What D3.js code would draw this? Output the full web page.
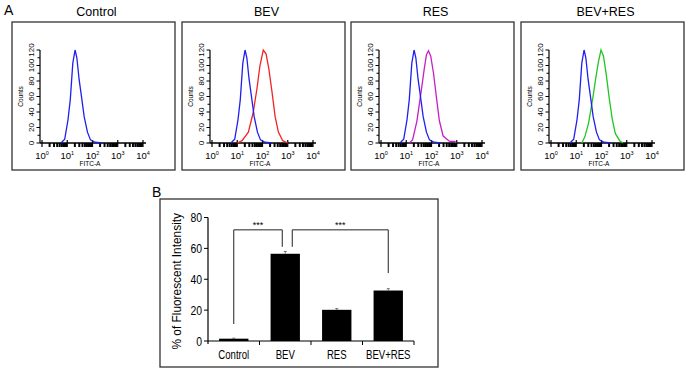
<!DOCTYPE html>
<html>
<head>
<meta charset="utf-8">
<script src="https://cdn.jsdelivr.net/npm/d3@7"></script>
<style>
  body { margin: 0; background: #fff; }
  svg { display: block; font-family: "Liberation Sans", Arial, sans-serif; }
</style>
</head>
<body>
<svg id="chart" width="685" height="370"></svg>
<script>
// ---- data ----
// histograms: [log10 FITC-A, counts]
const controlHist = [[0.75,0],[0.9,5],[1.03,30],[1.12,56],[1.22,103],[1.31,120],[1.38,110],[1.47,82],[1.58,56],[1.67,34],[1.8,14],[1.92,4],[2.1,1],[2.37,0]];
const bevHist = [[1.0,0],[1.19,3],[1.44,14],[1.63,39],[1.78,70],[1.9,100],[2.03,120],[2.14,115],[2.25,96],[2.38,65],[2.5,34],[2.63,14],[2.8,3],[3.0,0]];
const resHist = [[1.12,0],[1.25,4],[1.42,28],[1.58,64],[1.71,95],[1.8,114],[1.88,119],[1.97,112],[2.08,90],[2.21,55],[2.31,29],[2.46,9],[2.72,2],[2.92,2],[2.98,0]];
const bevResHist = [[1.22,0],[1.34,8],[1.49,26],[1.65,57],[1.77,83],[1.88,105],[1.98,120],[2.08,112],[2.19,88],[2.31,57],[2.43,30],[2.55,12],[2.72,3],[2.85,0]];

const panelNames = ["Control", "BEV", "RES", "BEV+RES"];
const panelHists = [null, bevHist, resHist, bevResHist];
const panelColors = ["#1f1fef", "#f02424", "#c81ec8", "#22c522"];
const countTicks = [0, 20, 40, 60, 80, 100, 120];
const decadeTicks = [1, 10, 100, 1000, 10000];
const decadeExp = ["0", "1", "2", "3", "4"];

// bar chart
const categories = ["Control", "BEV", "RES", "BEV+RES"];
const intensity = [1.5, 56.5, 20.2, 32.7];
const intensityErr = [0.3, 1.5, 0.8, 1.2];
const yTicks = [0, 20, 40, 60, 80];
const brackets = [
  { from: "Control", to: "BEV", leftEnd: 11, top: 72, rightEnd: 61, dxL: 0, dxR: -3 },
  { from: "BEV", to: "BEV+RES", leftEnd: 61, top: 72, rightEnd: 44, dxL: 7, dxR: 0 }
];

const svg = d3.select("#chart");
svg.append("rect").attr("width", 685).attr("height", 370).attr("fill", "#fff");

svg.append("text").attr("x", 4).attr("y", 15).style("font-size", "14px").text("A");

// ---- panel A ----
const panelX = [12, 182, 351, 521];
const panelW = 163, panelTop = 22, panelH = 148;

panelX.forEach((px, i) => {
  const g = svg.append("g").attr("transform", `translate(${px},${panelTop})`);
  g.append("rect").attr("width", panelW).attr("height", panelH)
    .attr("fill", "none").attr("stroke", "#333").attr("stroke-width", 1.3);

  svg.append("text").attr("x", px + panelW / 2 + 3).attr("y", 16)
    .attr("text-anchor", "middle").style("font-size", "12.5px").text(panelNames[i]);

  const ax = 28;
  const x = d3.scaleLog().domain([1, 10000]).range([ax + 2, ax + 103]);
  const y = d3.scaleLinear().domain([0, 120]).range([121, 28]);

  // y axis
  g.append("line").attr("x1", ax).attr("x2", ax).attr("y1", y(0)).attr("y2", y(120))
    .attr("stroke", "#000").attr("stroke-width", 1.2);
  d3.range(0, 121, 10).forEach(v => {
    g.append("line").attr("x1", ax).attr("x2", ax - (v % 20 === 0 ? 3.5 : 2.5))
      .attr("y1", y(v)).attr("y2", y(v)).attr("stroke", "#000").attr("stroke-width", 1);
  });
  countTicks.forEach(v => {
    g.append("text").attr("transform", `translate(${ax - 6},${y(v)}) rotate(-90)`)
      .attr("text-anchor", "middle").style("font-size", "8px").text(v);
  });
  g.append("text").attr("transform", `translate(${ax - 17},${(y(0) + y(120)) / 2}) rotate(-90)`)
    .attr("text-anchor", "middle").style("font-size", "6.5px").text("Counts");

  // x axis
  g.append("line").attr("x1", ax).attr("x2", ax + 106).attr("y1", y(0)).attr("y2", y(0))
    .attr("stroke", "#000").attr("stroke-width", 1.3);
  decadeTicks.slice(0, 4).forEach(d => {
    for (let k = 2; k <= 9; k++) {
      g.append("line").attr("x1", x(d * k)).attr("x2", x(d * k))
        .attr("y1", y(0)).attr("y2", y(0) + 4).attr("stroke", "#000").attr("stroke-width", 2);
    }
  });
  decadeTicks.forEach((d, j) => {
    g.append("line").attr("x1", x(d)).attr("x2", x(d))
      .attr("y1", y(0) - 3).attr("y2", y(0) + 4).attr("stroke", "#000").attr("stroke-width", 1.2);
    const t = g.append("text").attr("x", x(d)).attr("y", y(0) + 15.5)
      .attr("text-anchor", "middle").style("font-size", "9.5px");
    t.append("tspan").text("10");
    t.append("tspan").attr("dy", -4).style("font-size", "5.5px").text(decadeExp[j]);
  });
  g.append("text").attr("x", ax + 50).attr("y", y(0) + 22.5)
    .attr("text-anchor", "middle").style("font-size", "6.5px").text("FITC-A");

  const line = d3.line().x(d => x(Math.pow(10, d[0]))).y(d => y(d[1]));
  if (panelHists[i]) {
    g.append("path").datum(panelHists[i]).attr("d", line)
      .attr("fill", "none").attr("stroke", panelColors[i]).attr("stroke-width", 1.3);
  }
  g.append("path").datum(controlHist).attr("d", line)
    .attr("fill", "none").attr("stroke", panelColors[0]).attr("stroke-width", 1.3);
});

// ---- panel B ----
svg.append("text").attr("x", 152).attr("y", 197).style("font-size", "14px").text("B");
svg.append("rect").attr("x", 160).attr("y", 199).attr("width", 278).attr("height", 168)
  .attr("fill", "none").attr("stroke", "#333").attr("stroke-width", 1.3);

const bx = d3.scaleBand().domain(categories).range([208, 414]).paddingInner(0.43).paddingOuter(0.215);
const by = d3.scaleLinear().domain([0, 80]).range([341, 217.5]);
const squeeze = 0.8;

svg.append("line").attr("x1", 208).attr("x2", 208).attr("y1", by(80)).attr("y2", by(0) + 3)
  .attr("stroke", "#000").attr("stroke-width", 1.2);
yTicks.forEach(v => {
  svg.append("line").attr("x1", 204).attr("x2", 208).attr("y1", by(v)).attr("y2", by(v))
    .attr("stroke", "#000").attr("stroke-width", 1);
  svg.append("text").attr("transform", `translate(202,${by(v) + 4.5}) scale(${squeeze},1)`)
    .attr("text-anchor", "end").style("font-size", "13px").text(v);
});

svg.append("line").attr("x1", 208).attr("x2", 414).attr("y1", by(0)).attr("y2", by(0))
  .attr("stroke", "#000").attr("stroke-width", 1.2);
categories.forEach((c, i) => {
  const xb = bx(c) + bx.bandwidth() + bx.step() * 0.43 / 2;
  svg.append("line").attr("x1", xb).attr("x2", xb).attr("y1", by(0)).attr("y2", by(0) + 4)
    .attr("stroke", "#000").attr("stroke-width", 1);
  svg.append("text").attr("transform", `translate(${bx(c) + bx.bandwidth() / 2},359) scale(${squeeze},1)`)
    .attr("text-anchor", "middle").style("font-size", "12px").text(c);
});

svg.selectAll(".bar").data(categories).join("rect").attr("class", "bar")
  .attr("x", d => bx(d)).attr("width", bx.bandwidth())
  .attr("y", (d, i) => by(intensity[i])).attr("height", (d, i) => by(0) - by(intensity[i]))
  .attr("fill", "#000");

categories.forEach((c, i) => {
  const cx = bx(c) + bx.bandwidth() / 2;
  svg.append("line").attr("x1", cx).attr("x2", cx)
    .attr("y1", by(intensity[i])).attr("y2", by(intensity[i] + intensityErr[i]))
    .attr("stroke", "#555").attr("stroke-width", 0.8);
  svg.append("line").attr("x1", cx - 1.5).attr("x2", cx + 1.5)
    .attr("y1", by(intensity[i] + intensityErr[i])).attr("y2", by(intensity[i] + intensityErr[i]))
    .attr("stroke", "#555").attr("stroke-width", 0.8);
});

svg.append("text").attr("transform", `translate(181,${(by(0) + by(80)) / 2 + 2}) rotate(-90) scale(0.88,1)`)
  .attr("text-anchor", "middle").style("font-size", "13.5px")
  .text("% of Fluorescent Intensity");

brackets.forEach(b => {
  const x1 = bx(b.from) + bx.bandwidth() / 2 + b.dxL;
  const x2 = bx(b.to) + bx.bandwidth() / 2 + b.dxR;
  svg.append("path")
    .attr("d", `M${x1},${by(b.leftEnd)}V${by(b.top)}H${x2}V${by(b.rightEnd)}`)
    .attr("fill", "none").attr("stroke", "#222").attr("stroke-width", 1);
  svg.append("text").attr("x", (x1 + x2) / 2).attr("y", by(b.top) - 2)
    .attr("text-anchor", "middle").style("font-size", "9px").text("***");
});
</script>
</body>
</html>
